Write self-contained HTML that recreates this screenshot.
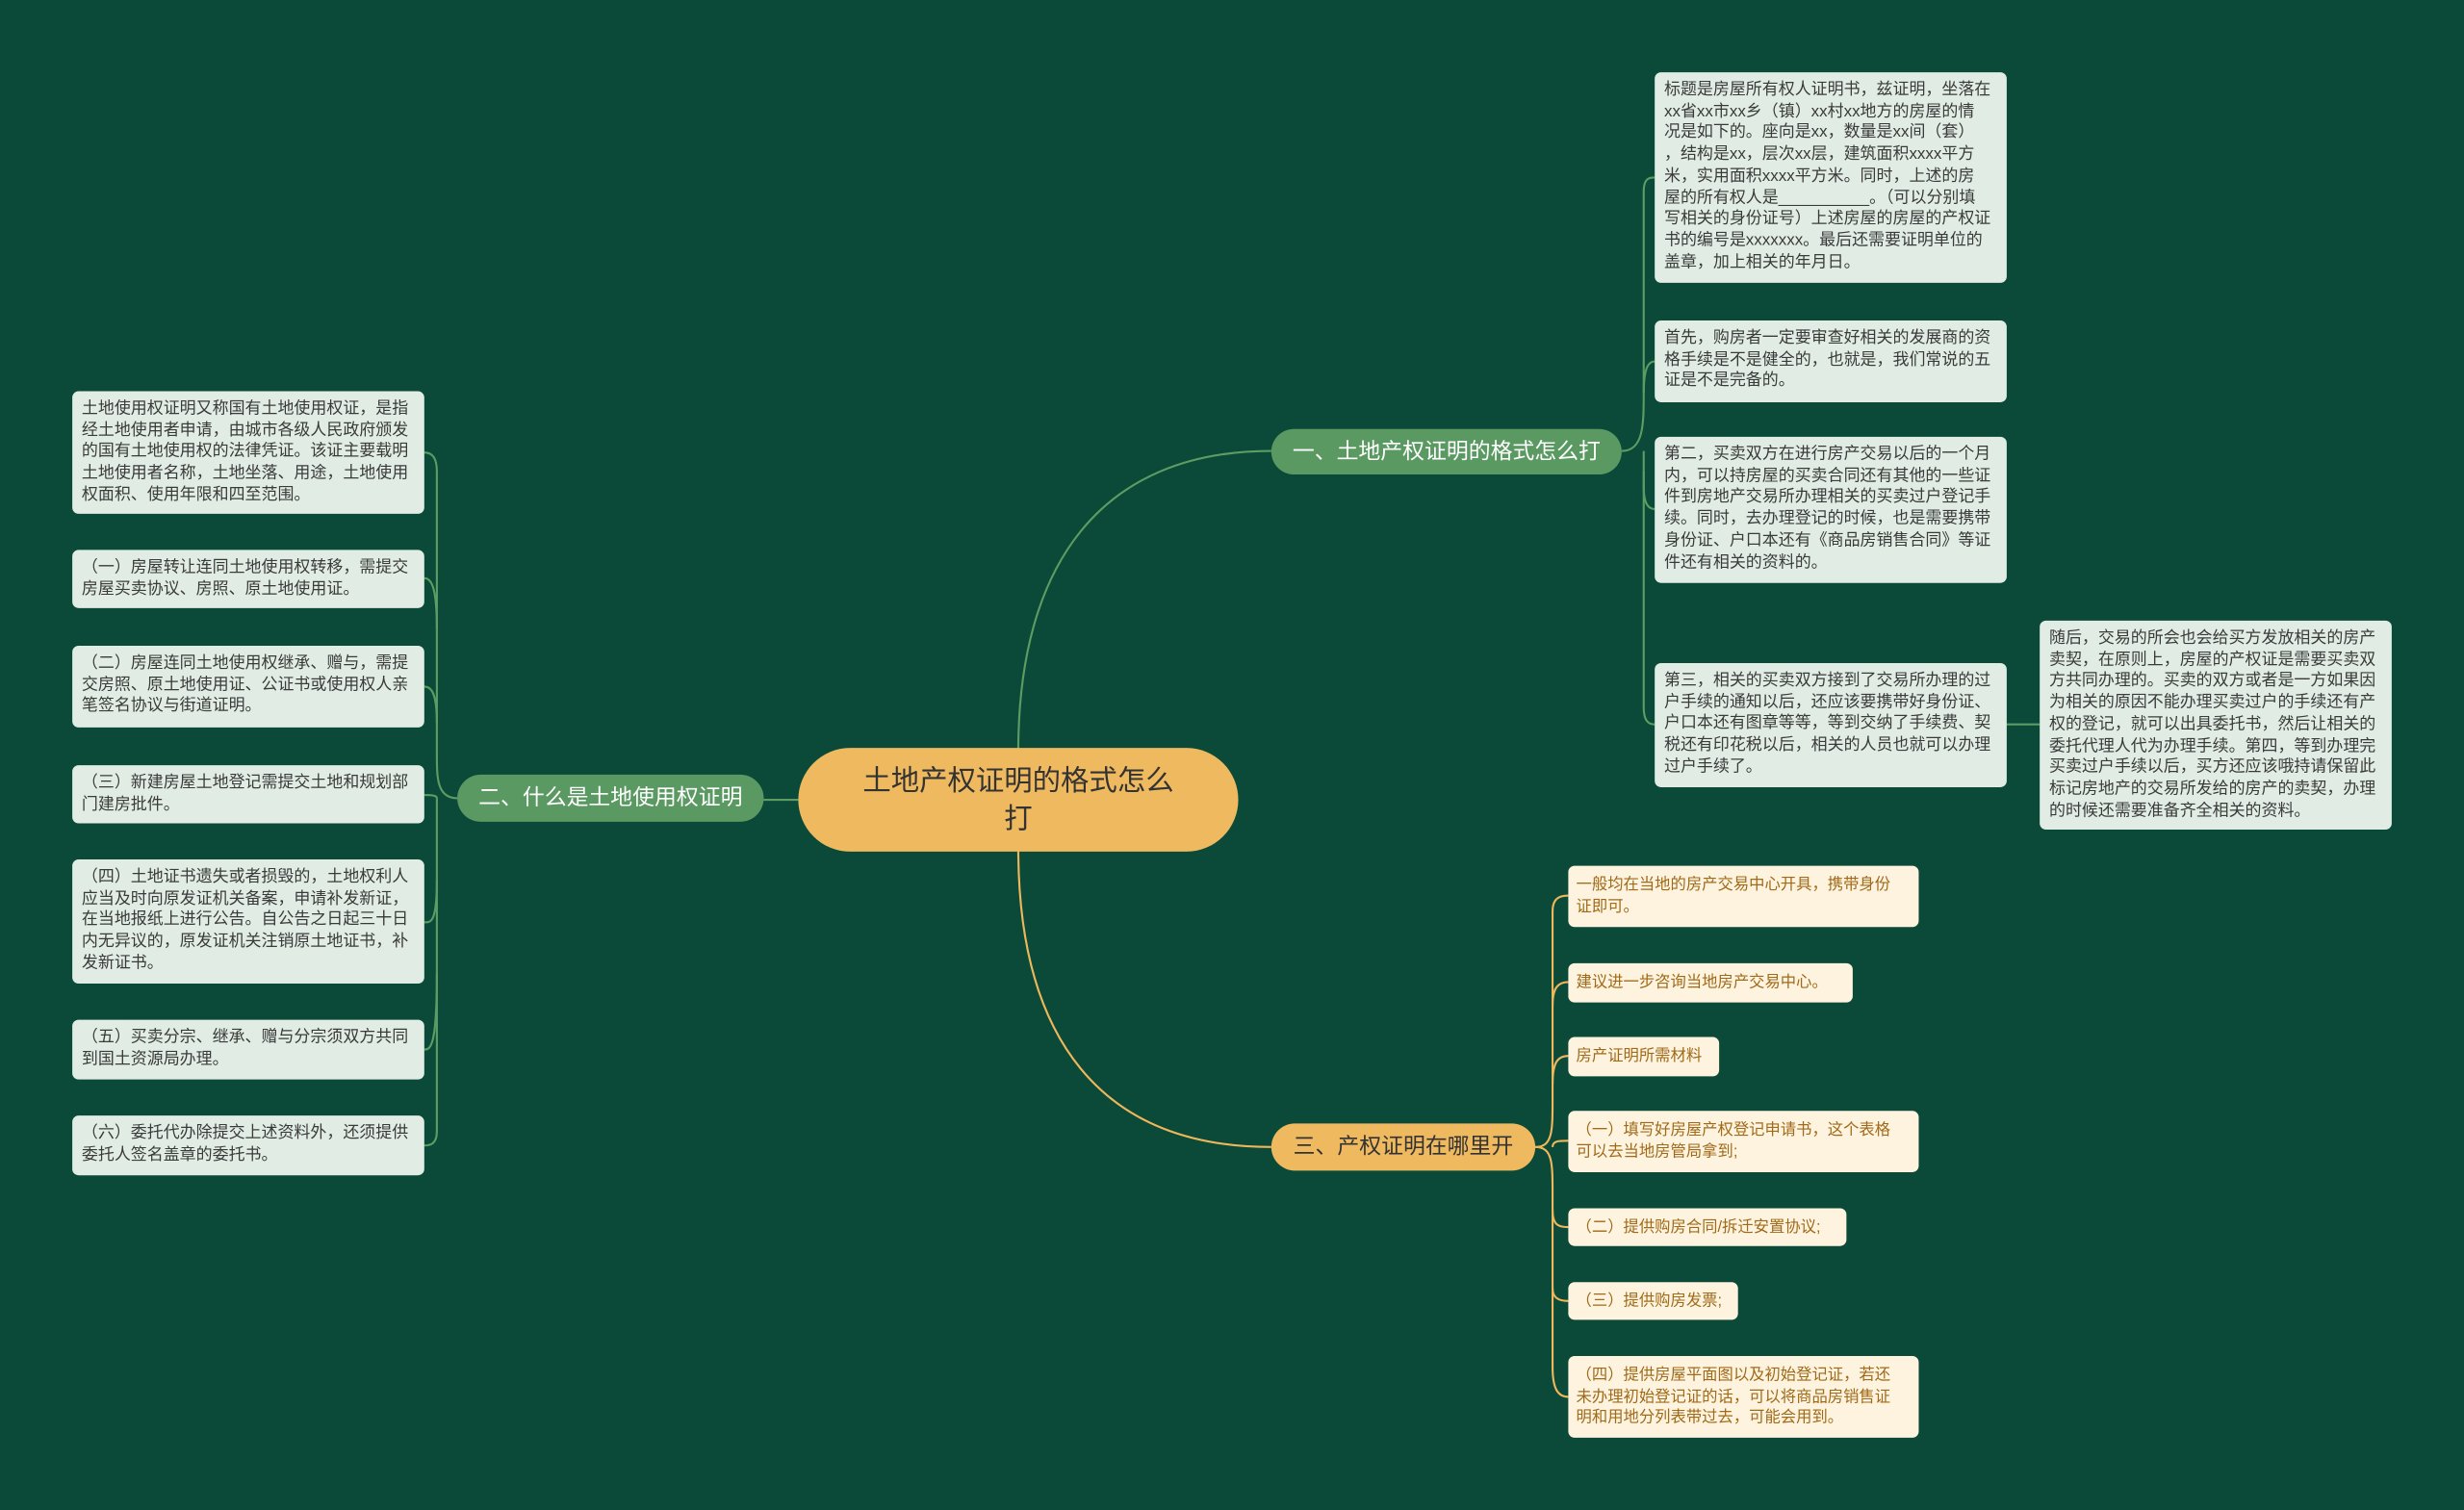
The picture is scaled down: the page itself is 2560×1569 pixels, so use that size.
<!DOCTYPE html>
<html><head><meta charset="utf-8"><style>
html,body{margin:0;padding:0;background:#0b4a38;overflow:hidden;}
#w{position:absolute;left:0;top:0;width:1568px;height:961px;transform:scale(1.63265);transform-origin:0 0;font-family:"Liberation Sans","Noto Sans CJK SC",sans-serif;}
.n{position:absolute;box-sizing:border-box;white-space:nowrap;}
.g{background:#e1ede4;color:#3a3a3a;font-size:10.4px;line-height:13.7px;padding:5px 6px;border-radius:4px;}
.o{background:#fdf3df;color:#a06a18;font-size:10px;line-height:13.7px;padding:6px 5px;border-radius:4px;}
.b{border-radius:15px;font-size:14px;text-align:center;line-height:29px;}
svg{position:absolute;left:0;top:0;}
</style></head><body><div id="w">
<svg width="1568" height="961" fill="none">
<g stroke="#5d9c63" stroke-width="1.3">
<path d="M648 478 C648 360 700 287 809 287"/>
<path d="M508 509 L486 509"/>
<path d="M1032 287 C1046 287 1046 270 1046 250 L1046 122 C1046 113 1050 113 1053 113"/>
<path d="M1046 250 C1046 232 1050 230 1053 230"/>
<path d="M1046 287 L1046 310 C1046 322 1050 324 1053 324"/>
<path d="M1046 300 L1046 450 C1046 460 1050 461 1053 461"/>
<path d="M1277 461 L1298 461"/>
<path d="M291 508 C278 508 278 495 278 480 L278 300 C278 290 274 288 270 288"/>
<path d="M278 400 C278 372 274 368 270 368"/>
<path d="M278 460 C278 440 274 437 270 437"/>
<path d="M278 508 C278 506 274 506 270 506"/>
<path d="M278 508 L278 720 C278 728 274 729 270 729"/>
<path d="M278 560 C278 588 274 587 270 587"/>
<path d="M278 620 C278 666 274 668 270 668"/>
</g>
<g stroke="#eeb75c" stroke-width="1.3">
<path d="M648 540 C648 660 700 730 809 730"/>
<path d="M977 730 C988 730 988 720 988 700 L988 580 C988 572 992 570 998 570"/>
<path d="M988 640 C988 628 992 625 998 625"/>
<path d="M988 690 C988 675 992 672 998 672"/>
<path d="M988 730 C988 726 992 726 998 726"/>
<path d="M977 730 C988 730 988 740 988 760 L988 870 C988 885 992 889 998 889"/>
<path d="M988 770 C988 780 992 781 998 781"/>
<path d="M988 820 C988 826 992 828 998 828"/>
</g>
</svg>
<div class="n" style="left:508px;top:476px;width:280px;height:66px;background:#efb95f;border-radius:33px;color:#333;font-size:18px;line-height:24px;text-align:center;padding-top:9px;">土地产权证明的格式怎么<br>打</div>
<div class="n b" style="left:809px;top:273px;width:223px;height:29px;background:#5a9a62;color:#fff;">一、土地产权证明的格式怎么打</div>
<div class="n b" style="left:291px;top:493px;width:195px;height:30px;background:#5a9a62;color:#fff;">二、什么是土地使用权证明</div>
<div class="n b" style="left:809px;top:715px;width:168px;height:30px;background:#efb95f;color:#333;">三、产权证明在哪里开</div>

<div class="n g" style="left:1053px;top:46px;width:224px;height:134px;">标题是房屋所有权人证明书，兹证明，坐落在<br>xx省xx市xx乡（镇）xx村xx地方的房屋的情<br>况是如下的。座向是xx，数量是xx间（套）<br>，结构是xx，层次xx层，建筑面积xxxx平方<br>米，实用面积xxxx平方米。同时，上述的房<br>屋的所有权人是__________。（可以分别填<br>写相关的身份证号）上述房屋的房屋的产权证<br>书的编号是xxxxxxx。最后还需要证明单位的<br>盖章，加上相关的年月日。</div>
<div class="n g" style="left:1053px;top:204px;width:224px;height:52px;">首先，购房者一定要审查好相关的发展商的资<br>格手续是不是健全的，也就是，我们常说的五<br>证是不是完备的。</div>
<div class="n g" style="left:1053px;top:278px;width:224px;height:93px;">第二，买卖双方在进行房产交易以后的一个月<br>内，可以持房屋的买卖合同还有其他的一些证<br>件到房地产交易所办理相关的买卖过户登记手<br>续。同时，去办理登记的时候，也是需要携带<br>身份证、户口本还有《商品房销售合同》等证<br>件还有相关的资料的。</div>
<div class="n g" style="left:1053px;top:422px;width:224px;height:79px;">第三，相关的买卖双方接到了交易所办理的过<br>户手续的通知以后，还应该要携带好身份证、<br>户口本还有图章等等，等到交纳了手续费、契<br>税还有印花税以后，相关的人员也就可以办理<br>过户手续了。</div>
<div class="n g" style="left:1298px;top:395px;width:224px;height:133px;">随后，交易的所会也会给买方发放相关的房产<br>卖契，在原则上，房屋的产权证是需要买卖双<br>方共同办理的。买卖的双方或者是一方如果因<br>为相关的原因不能办理买卖过户的手续还有产<br>权的登记，就可以出具委托书，然后让相关的<br>委托代理人代为办理手续。第四，等到办理完<br>买卖过户手续以后，买方还应该哦持请保留此<br>标记房地产的交易所发给的房产的卖契，办理<br>的时候还需要准备齐全相关的资料。</div>

<div class="n g" style="left:46px;top:249px;width:224px;height:78px;">土地使用权证明又称国有土地使用权证，是指<br>经土地使用者申请，由城市各级人民政府颁发<br>的国有土地使用权的法律凭证。该证主要载明<br>土地使用者名称，土地坐落、用途，土地使用<br>权面积、使用年限和四至范围。</div>
<div class="n g" style="left:46px;top:350px;width:224px;height:37px;">（一）房屋转让连同土地使用权转移，需提交<br>房屋买卖协议、房照、原土地使用证。</div>
<div class="n g" style="left:46px;top:411px;width:224px;height:52px;">（二）房屋连同土地使用权继承、赠与，需提<br>交房照、原土地使用证、公证书或使用权人亲<br>笔签名协议与街道证明。</div>
<div class="n g" style="left:46px;top:487px;width:224px;height:37px;">（三）新建房屋土地登记需提交土地和规划部<br>门建房批件。</div>
<div class="n g" style="left:46px;top:547px;width:224px;height:79px;">（四）土地证书遗失或者损毁的，土地权利人<br>应当及时向原发证机关备案，申请补发新证，<br>在当地报纸上进行公告。自公告之日起三十日<br>内无异议的，原发证机关注销原土地证书，补<br>发新证书。</div>
<div class="n g" style="left:46px;top:649px;width:224px;height:38px;">（五）买卖分宗、继承、赠与分宗须双方共同<br>到国土资源局办理。</div>
<div class="n g" style="left:46px;top:710px;width:224px;height:38px;">（六）委托代办除提交上述资料外，还须提供<br>委托人签名盖章的委托书。</div>

<div class="n o" style="left:998px;top:551px;width:223px;height:39px;">一般均在当地的房产交易中心开具，携带身份<br>证即可。</div>
<div class="n o" style="left:998px;top:613px;width:181px;height:25px;">建议进一步咨询当地房产交易中心。</div>
<div class="n o" style="left:998px;top:660px;width:96px;height:25px;">房产证明所需材料</div>
<div class="n o" style="left:998px;top:707px;width:223px;height:39px;">（一）填写好房屋产权登记申请书，这个表格<br>可以去当地房管局拿到;</div>
<div class="n o" style="left:998px;top:769px;width:177px;height:24px;">（二）提供购房合同/拆迁安置协议;</div>
<div class="n o" style="left:998px;top:816px;width:108px;height:24px;">（三）提供购房发票;</div>
<div class="n o" style="left:998px;top:863px;width:223px;height:52px;">（四）提供房屋平面图以及初始登记证，若还<br>未办理初始登记证的话，可以将商品房销售证<br>明和用地分列表带过去，可能会用到。</div>
</div></body></html>
